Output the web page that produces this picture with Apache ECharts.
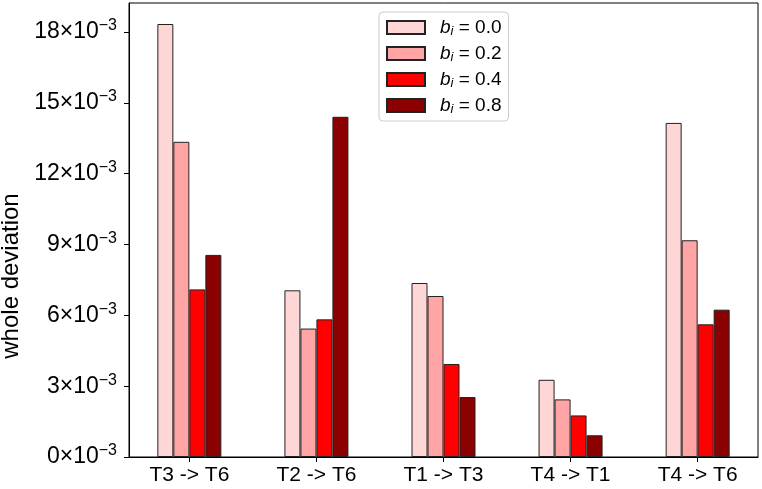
<!DOCTYPE html>
<html>
<head>
<meta charset="utf-8">
<script src="https://cdn.jsdelivr.net/npm/echarts@6/dist/echarts.min.js"></script>
<style>
  html, body { margin: 0; padding: 0; background: #fff; }
  #chart { width: 762px; height: 489px; }
</style>
</head>
<body>
<div id="chart"></div>
<script>
// categories (transitions) and deviation per b_i
const transitions = ["T3 -> T6", "T2 -> T6", "T1 -> T3", "T4 -> T1", "T4 -> T6"];
const biLevels = ["0.0", "0.2", "0.4", "0.8"];
const dev00 = [0.01834, 0.00706, 0.00737, 0.00327, 0.01415];
const dev02 = [0.01335, 0.00544, 0.00682, 0.00244, 0.00918];
const dev04 = [0.00710, 0.00583, 0.00394, 0.00176, 0.00562];
const dev08 = [0.00856, 0.01441, 0.00254, 0.00092, 0.00624];
const yTicks = [0, 0.003, 0.006, 0.009, 0.012, 0.015, 0.018];

const colors = ["#ffd6d6", "#ffa5a5", "#ff0000", "#8b0000"];
const allDev = [dev00, dev02, dev04, dev08];
const font = "Liberation Sans";

const chart = echarts.init(document.getElementById("chart"));

const series = biLevels.map((b, k) => ({
  name: "b_i = " + b,
  type: "bar",
  barWidth: 16,
  barGap: 0,
  itemStyle: { color: colors[k], borderColor: "#222", borderWidth: 1 },
  data: allDev[k].map((v, i) => [i, v])
}));

chart.setOption({
  animation: false,
  textStyle: { fontFamily: font },
  grid: {
    left: 129, right: 4, top: 3, bottom: 32,
    outerBoundsMode: "none",
    show: true, borderColor: "#000", borderWidth: 1
  },
  legend: {
    orient: "vertical",
    left: 379, top: 12,
    itemWidth: 38, itemHeight: 13, itemGap: 5,
    padding: [5, 7, 5, 7],
    borderColor: "#ccc", borderWidth: 1, borderRadius: 4,
    icon: "rect",
    formatter: name => "{b|b}{s|i}{n|" + name.slice(3) + "}",
    textStyle: {
      rich: {
        b: { fontFamily: font, fontSize: 19, lineHeight: 21, fontStyle: "italic", color: "#000", padding: [0, 0, 0, 10] },
        s: { fontFamily: font, fontSize: 13, lineHeight: 21, fontStyle: "italic", color: "#000", padding: [8, 0, 0, 0] },
        n: { fontFamily: font, fontSize: 19, lineHeight: 21, color: "#000" }
      }
    }
  },
  xAxis: {
    type: "value",
    min: -0.475, max: 4.475,
    splitLine: { show: false },
    axisLine: { show: true, onZero: false, lineStyle: { color: "#000" } },
    axisTick: { show: true, inside: false, length: 5, customValues: [0, 1, 2, 3, 4], lineStyle: { color: "#000" } },
    axisLabel: {
      customValues: [0, 1, 2, 3, 4],
      formatter: v => transitions[Math.round(v)],
      color: "#000", fontSize: 21, fontFamily: font, margin: 8
    }
  },
  yAxis: {
    type: "value",
    min: 0, max: 0.01923,
    name: "whole deviation",
    nameLocation: "middle",
    nameGap: 96,
    nameTextStyle: { fontSize: 24, color: "#000", fontFamily: font, padding: [0, 92, 0, 0] },
    splitLine: { show: false },
    axisLine: { show: true, onZero: false, lineStyle: { color: "#000" } },
    axisTick: { show: true, inside: false, length: 5, customValues: yTicks, lineStyle: { color: "#000" } },
    axisLabel: {
      customValues: yTicks,
      margin: 12,
      formatter: v => "{a|" + Math.round(v * 1000) + "×10}{s|−3}",
      rich: {
        a: { fontFamily: font, fontSize: 23, color: "#000" },
        s: { fontFamily: font, fontSize: 16, color: "#000", padding: [0, 0, 12, 0] }
      }
    }
  },
  series: series
});
</script>
</body>
</html>
